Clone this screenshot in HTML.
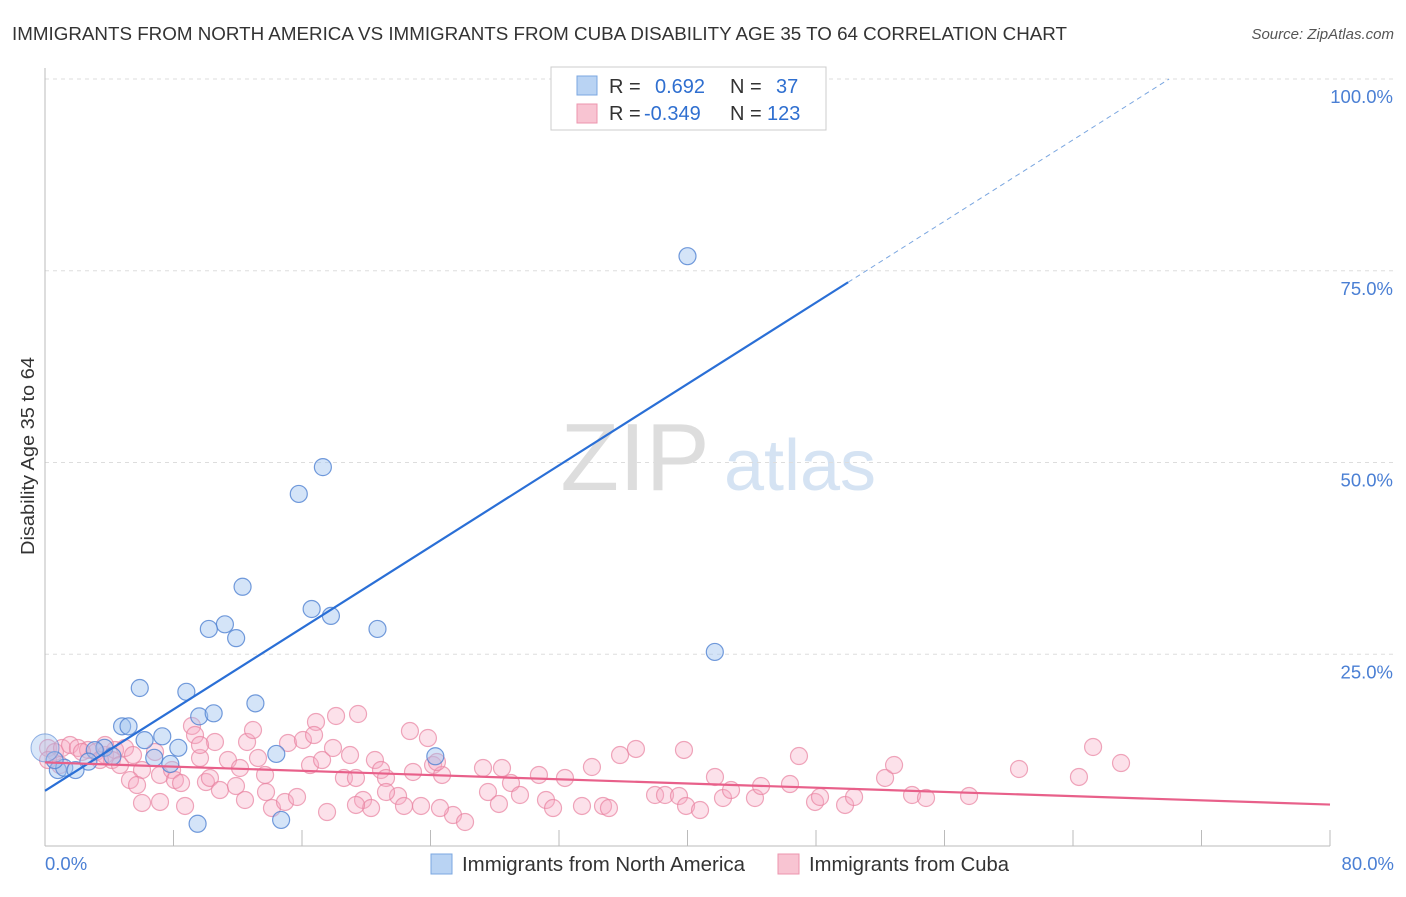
<!DOCTYPE html>
<html><head><meta charset="utf-8"><style>
body{margin:0;background:#fff;font-family:"Liberation Sans",sans-serif;}
svg text{font-family:"Liberation Sans",sans-serif;}
</style></head><body>
<svg id="chart" width="1406" height="892">
<text x="12" y="40" font-size="18.5" fill="#333" textLength="1055" lengthAdjust="spacingAndGlyphs">IMMIGRANTS FROM NORTH AMERICA VS IMMIGRANTS FROM CUBA DISABILITY AGE 35 TO 64 CORRELATION CHART</text>
<text x="1394" y="39" font-size="15" fill="#555" text-anchor="end" font-style="italic">Source: ZipAtlas.com</text>
<text x="0" y="0" transform="translate(34,456) rotate(-90)" font-size="18" fill="#333" text-anchor="middle" textLength="198" lengthAdjust="spacingAndGlyphs">Disability Age 35 to 64</text>
<g><text x="635" y="490" font-size="96" fill="#ddd" font-family="Liberation Serif" text-anchor="middle">ZIP</text><text x="800" y="490" font-size="72" fill="#d5e3f3" text-anchor="middle">atlas</text></g>
<g id="grid"></g><g id="axes"></g><g id="marks"></g>
<g>
<rect x="551" y="67" width="275" height="63" fill="#fff" stroke="#ccc"/>
<rect x="577" y="76" width="20" height="19" fill="#b9d3f3" stroke="#7ba7e0"/>
<rect x="577" y="104" width="20" height="19" fill="#f8c4d2" stroke="#ec95ae"/>
<text x="609" y="93" font-size="20" fill="#333">R = </text><text x="655" y="93" font-size="20" fill="#2f6fd0">0.692</text>
<text x="730" y="93" font-size="20" fill="#333">N = </text><text x="776" y="93" font-size="20" fill="#2f6fd0">37</text>
<text x="609" y="120" font-size="20" fill="#333">R = </text><text x="644" y="120" font-size="20" fill="#2f6fd0">-0.349</text>
<text x="730" y="120" font-size="20" fill="#333">N = </text><text x="767" y="120" font-size="20" fill="#2f6fd0">123</text>
</g>
<g>
<rect x="431" y="854" width="21" height="20" fill="#b9d3f3" stroke="#7ba7e0"/>
<text x="462" y="871" font-size="20" fill="#333" textLength="283" lengthAdjust="spacingAndGlyphs">Immigrants from North America</text>
<rect x="778" y="854" width="21" height="20" fill="#f8c4d2" stroke="#ec95ae"/>
<text x="809" y="871" font-size="20" fill="#333" textLength="200" lengthAdjust="spacingAndGlyphs">Immigrants from Cuba</text>
</g>
</svg>
<script>
const yTicks=[25,50,75,100];
const xTickLabels=["0.0%","80.0%"];
const blueX=[33.3,40.0,17.3,15.8,12.3,16.6,17.8,11.2,10.2,11.9,20.7,41.7,5.9,8.8,13.1,9.6,10.5,4.8,5.2,7.3,6.2,8.3,14.4,24.3,3.7,3.1,6.8,7.8,2.7,0.8,1.2,1.9,9.5,14.7,4.2,0.6];
const blueY=[100,76.9,49.4,45.9,33.8,30.9,30.0,28.9,28.3,27.1,28.3,25.3,20.6,20.1,18.6,16.9,17.3,15.6,15.6,14.3,13.8,12.8,12.0,11.7,12.8,12.5,11.5,10.7,11.0,9.9,10.2,9.9,2.9,3.4,11.7,11.2];
const pinkPx=[[48,748],[55,752],[62,748],[70,745],[78,748],[88,750],[96,752],[105,755],[115,750],[125,748],[112,760],[100,760],[120,765],[133,755],[142,770],[130,780],[137,785],[155,752],[160,775],[172,770],[175,780],[181,783],[192,726],[195,735],[200,758],[206,782],[210,778],[215,742],[220,790],[228,760],[240,768],[236,786],[247,742],[253,730],[258,758],[266,792],[265,775],[272,808],[285,802],[288,743],[297,797],[303,740],[316,722],[314,735],[310,765],[322,760],[336,716],[333,748],[344,778],[350,755],[358,714],[356,778],[363,800],[371,808],[375,760],[381,770],[386,778],[398,796],[404,806],[410,731],[413,772],[421,806],[428,738],[433,765],[442,775],[453,815],[465,822],[483,768],[488,792],[499,804],[502,768],[511,783],[520,795],[539,775],[546,800],[553,808],[565,778],[582,806],[592,767],[603,806],[609,808],[620,755],[636,749],[655,795],[665,795],[679,796],[684,750],[686,806],[700,810],[715,777],[723,798],[731,790],[755,798],[761,786],[790,784],[799,756],[815,802],[820,797],[845,805],[854,797],[885,778],[894,765],[912,795],[926,798],[969,796],[1019,769],[1079,777],[1093,747],[1121,763],[142,803],[160,802],[185,806],[327,812],[356,805],[48,760],[60,765],[82,752],[105,745],[200,745],[245,800],[386,792],[437,762],[440,808]];
// pink values in percent
const pinkX=pinkPx.map(p=>+((p[0]-45)/1285*80).toFixed(2));
const pinkY=pinkPx.map(p=>+((846-p[1])/7.67).toFixed(2));
const blueFit=[7.2,73.5]; // y at x=0 and x=50
const pinkFit=[10.9,5.4]; // y at x=0 and x=80
const X=v=>45+v/80*1285, Y=v=>846-v*7.67;
const NS="http://www.w3.org/2000/svg";
function mk(tag,attrs,parent){const e=document.createElementNS(NS,tag);for(const k in attrs)e.setAttribute(k,attrs[k]);document.getElementById(parent).appendChild(e);return e;}
yTicks.forEach(t=>{
 const l=mk('line',{x1:45,x2:1394,y1:Y(t),y2:Y(t),stroke:'#ddd','stroke-dasharray':'4,4'},'grid');
 
 
 const tx=mk('text',{x:1393,y:Y(t)+24,'font-size':18.5,fill:'#4a7fd4','text-anchor':'end'},'grid');
 tx.textContent=t.toFixed(1)+'%';
 
 
});
const ax=mk('line',{x1:45,x2:45,y1:68,y2:846,stroke:'#bbb'},'axes');


const bx=mk('line',{x1:45,x2:1330,y1:846,y2:846,stroke:'#bbb'},'axes');


for(let i=1;i<=10;i++){const t=mk('line',{x1:X(i*8),x2:X(i*8),y1:830,y2:846,stroke:'#bbb'},'axes');
 
 }
[[0,'start',45],[80,'end',1394]].forEach((d,i)=>{const t=mk('text',{x:d[2],y:870,'font-size':18.5,fill:'#4a7fd4','text-anchor':d[1]},'axes');t.textContent=xTickLabels[i];
 
 });
pinkX.forEach((x,i)=>{const c=mk('circle',{cx:X(x),cy:Y(pinkY[i]),r:8.5,fill:'rgba(245,170,195,0.35)',stroke:'rgba(232,130,160,0.7)','stroke-width':1.2},'marks');
 
 });
blueX.forEach((x,i)=>{const c=mk('circle',{cx:X(x),cy:Y(blueY[i]),r:8.5,fill:'rgba(160,195,240,0.45)',stroke:'rgba(80,130,210,0.8)','stroke-width':1.2},'marks');
 
 });
const big=mk('circle',{cx:X(0),cy:Y(12.8),r:14,fill:'rgba(160,195,240,0.4)',stroke:'rgba(80,130,210,0.6)'},'marks');


const bl=mk('line',{x1:X(0),y1:Y(blueFit[0]),x2:X(50),y2:Y(blueFit[1]),stroke:'#2a6fd6','stroke-width':2.2},'marks');


const sl=(blueFit[1]-blueFit[0])/50, xe=(100-blueFit[0])/sl;
const bd=mk('line',{x1:X(50),y1:Y(blueFit[1]),x2:X(xe),y2:Y(100),stroke:'#7aa6e0','stroke-width':1,'stroke-dasharray':'5,4'},'marks');


const pl=mk('line',{x1:X(0),y1:Y(pinkFit[0]),x2:X(80),y2:Y(pinkFit[1]),stroke:'#e8608a','stroke-width':2.2},'marks');


</script>
</body></html>
